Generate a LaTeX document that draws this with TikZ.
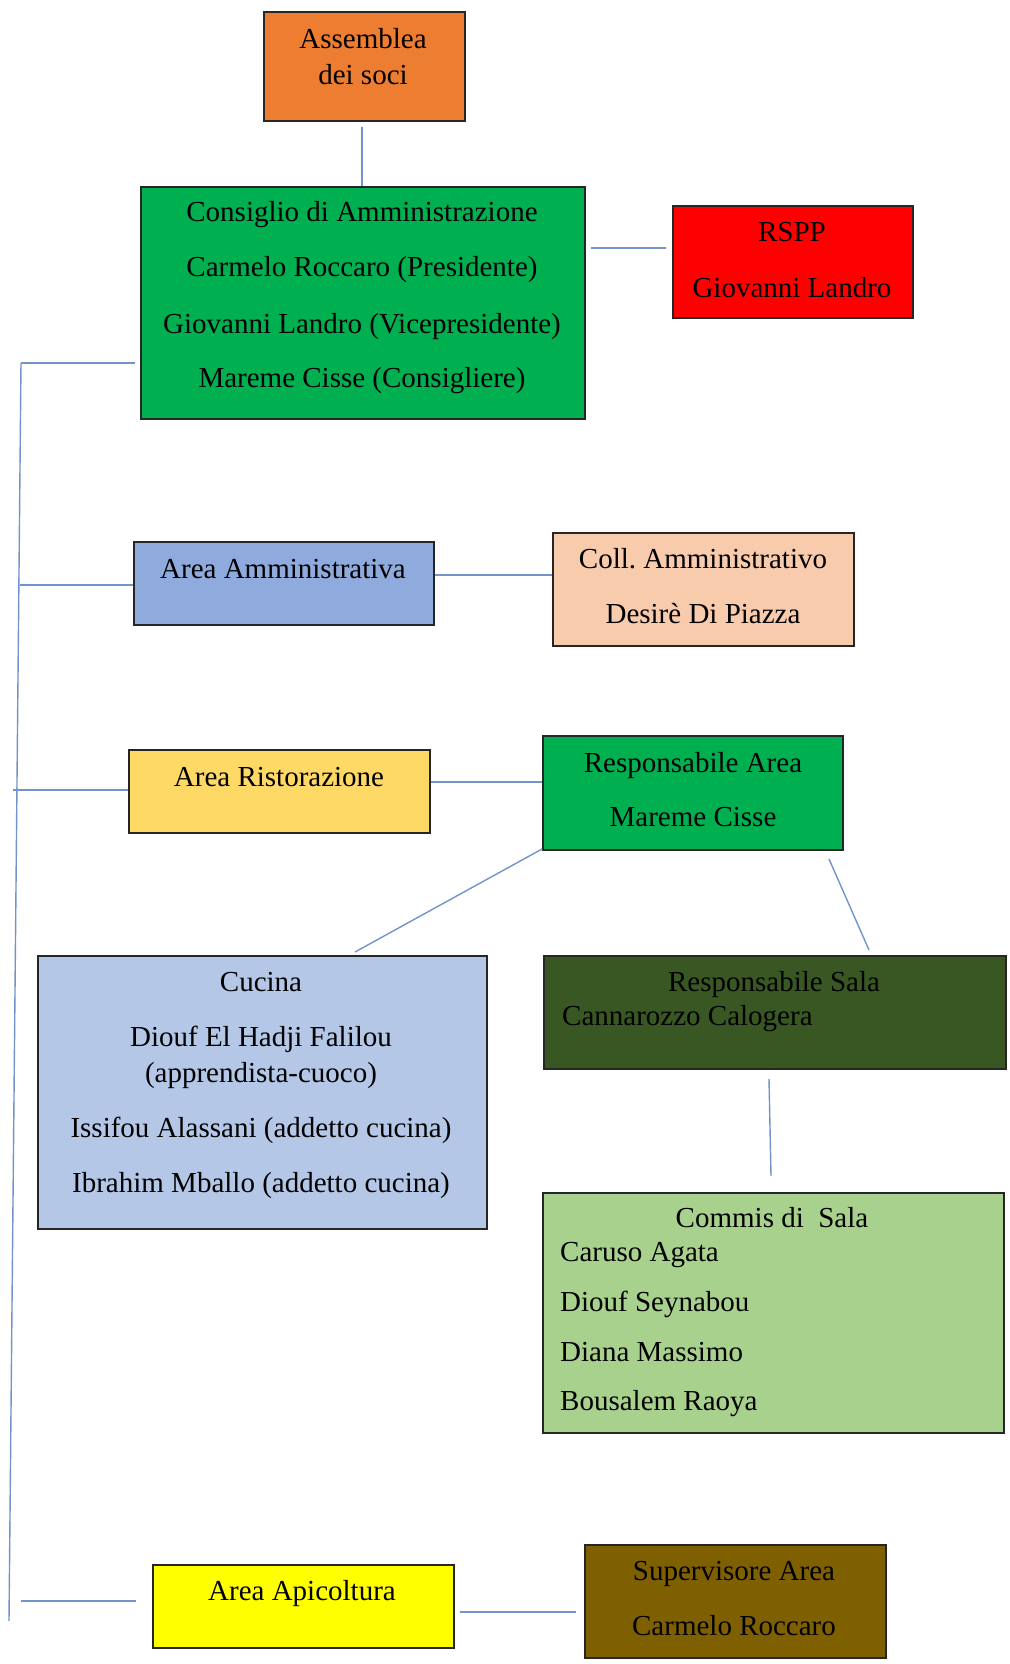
\documentclass[tikz,border=0pt]{standalone}
\usepackage{fontspec}
\setmainfont{Liberation Serif}
\frenchspacing
\definecolor{cOrange}{HTML}{ED7D31}
\definecolor{cGreen}{HTML}{00B050}
\definecolor{cRed}{HTML}{FF0000}
\definecolor{cBlue}{HTML}{8FAADC}
\definecolor{cPeach}{HTML}{F8CBAD}
\definecolor{cGold}{HTML}{FFD966}
\definecolor{cLBlue}{HTML}{B4C7E7}
\definecolor{cDGreen}{HTML}{385723}
\definecolor{cLGreen}{HTML}{A9D18E}
\definecolor{cYellow}{HTML}{FFFF00}
\definecolor{cBrown}{HTML}{7F6000}
\definecolor{cLine}{HTML}{7393CC}
\tikzset{
  box/.style={draw=black!85, line width=1.8pt, inner sep=0pt, anchor=north west},
  conn/.style={draw=cLine, line width=1.4pt},
  txt/.style={inner sep=0pt, anchor=base, font=\fontsize{29}{32}\selectfont},
  ltxt/.style={txt, anchor=base west},
}
\begin{document}
\begin{tikzpicture}[x=1pt,y=-1pt]
\useasboundingbox[fill=white] (0,0) rectangle (1009,1664);
% boxes
\node[box, fill=cOrange, minimum width=201pt, minimum height=109pt] (assemblea) at (263,11) {};
\node[box, fill=cGreen, minimum width=444pt, minimum height=232pt] (cda) at (140,186) {};
\node[box, fill=cRed, minimum width=240pt, minimum height=112pt] (rspp) at (672,205) {};
\node[box, fill=cBlue, minimum width=300pt, minimum height=83pt] (amm) at (133,541) {};
\node[box, fill=cPeach, minimum width=301pt, minimum height=113pt] (coll) at (552,532) {};
\node[box, fill=cGold, minimum width=301pt, minimum height=83pt] (rist) at (128,749) {};
\node[box, fill=cGreen, minimum width=300pt, minimum height=114pt] (resparea) at (542,735) {};
\node[box, fill=cLBlue, minimum width=449pt, minimum height=273pt] (cucina) at (37,955) {};
\node[box, fill=cDGreen, minimum width=462pt, minimum height=113pt] (respsala) at (543,955) {};
\node[box, fill=cLGreen, minimum width=461pt, minimum height=240pt] (commis) at (542,1192) {};
\node[box, fill=cYellow, minimum width=301pt, minimum height=83pt] (apic) at (152,1564) {};
\node[box, fill=cBrown, minimum width=301pt, minimum height=113pt] (superv) at (584,1544) {};
% texts
\node[txt] (t1) at (363,49) {Assemblea};
\node[txt] (t2) at (363,85) {dei soci};
\node[txt] (t3) at (362,221) {Consiglio di Amministrazione};
\node[txt] (t4) at (362,276) {Carmelo Roccaro (Presidente)};
\node[txt] (t5) at (362,333) {Giovanni Landro (Vicepresidente)};
\node[txt] (t6) at (362,387) {Mareme Cisse (Consigliere)};
\node[txt] (t7) at (792,241) {RSPP};
\node[txt] (t8) at (792,297) {Giovanni Landro};
\node[txt] (t9) at (283,578) {Area Amministrativa};
\node[txt] (t10) at (703,568) {Coll. Amministrativo};
\node[txt] (t11) at (703,623) {Desirè Di Piazza};
\node[txt] (t12) at (279,786) {Area Ristorazione};
\node[txt] (t13) at (693,772) {Responsabile Area};
\node[txt] (t14) at (693,826) {Mareme Cisse};
\node[txt] (t15) at (261,991) {Cucina};
\node[txt] (t16) at (261,1046) {Diouf El Hadji Falilou};
\node[txt] (t17) at (261,1082) {(apprendista-cuoco)};
\node[txt] (t18) at (261,1137) {Issifou Alassani (addetto cucina)};
\node[txt] (t19) at (261,1192) {Ibrahim Mballo (addetto cucina)};
\node[txt] (t20) at (774,991) {Responsabile Sala};
\node[ltxt] (t21) at (562,1025) {Cannarozzo Calogera};
\node[txt] (t22) at (772,1227) {Commis di\ \ Sala};
\node[ltxt] (t23) at (560,1261) {Caruso Agata};
\node[ltxt] (t24) at (560,1311) {Diouf Seynabou};
\node[ltxt] (t25) at (560,1361) {Diana Massimo};
\node[ltxt] (t26) at (560,1410) {Bousalem Raoya};
\node[txt] (t27) at (302,1600) {Area Apicoltura};
\node[txt] (t28) at (734,1580) {Supervisore Area};
\node[txt] (t29) at (734,1635) {Carmelo Roccaro};
% connector ends
\coordinate (a1) at (362,127);
\coordinate (a2) at (362,186);
\coordinate (r1) at (591,248);
\coordinate (r2) at (666,248);
\coordinate (vtop) at (21,363);
\coordinate (vbot) at (9,1621);
\coordinate (b1) at (135,363);
\coordinate (b2s) at (20,585);
\coordinate (b2) at (133,585);
\coordinate (b3s) at (13,790);
\coordinate (b3) at (128,790);
\coordinate (b4s) at (21,1601);
\coordinate (b4) at (136,1601);
\coordinate (m1) at (435,575);
\coordinate (m2) at (552,575);
\coordinate (s1) at (431,782);
\coordinate (s2) at (542,782);
\coordinate (k1) at (542,849);
\coordinate (k2) at (355,952);
\coordinate (h1) at (829,859);
\coordinate (h2) at (869,950);
\coordinate (g1) at (769,1079);
\coordinate (g2) at (771,1176);
\coordinate (p1) at (460,1612);
\coordinate (p2) at (576,1612);
% connectors
\draw[conn] (a1) -- (a2);
\draw[conn] (r1) -- (r2);
\draw[conn] (vtop) -- (vbot);
\draw[conn] (vtop) -- (b1);
\draw[conn] (b2s) -- (b2);
\draw[conn] (b3s) -- (b3);
\draw[conn] (b4s) -- (b4);
\draw[conn] (m1) -- (m2);
\draw[conn] (s1) -- (s2);
\draw[conn] (k1) -- (k2);
\draw[conn] (h1) -- (h2);
\draw[conn] (g1) -- (g2);
\draw[conn] (p1) -- (p2);
\end{tikzpicture}
\end{document}
